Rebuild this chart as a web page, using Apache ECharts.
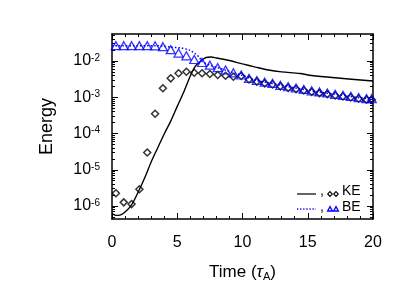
<!DOCTYPE html>
<html><head><meta charset="utf-8">
<script src="https://cdn.jsdelivr.net/npm/echarts@6/dist/echarts.min.js"></script>
<style>html,body{margin:0;padding:0;background:#fff}#c{width:407px;height:291px}</style>
</head><body><div id="c"></div>
<script>
// ---- data ----
const xTickValues = [0, 5, 10, 15, 20];
const yTickValues = [1e-6, 1e-5, 1e-4, 1e-3, 1e-2];
const yTickLabels = ['10{s|-6}', '10{s|-5}', '10{s|-4}', '10{s|-3}', '10{s|-2}'];

// KE solid line
const keLineT = [0, 0.3, 0.6, 1.0, 1.5, 2.1, 2.5, 3.0, 3.5, 4.0, 4.5, 5.0, 5.5, 6.0, 6.4, 6.8, 7.2, 7.6, 8.0, 9.0, 10, 11, 12, 13, 14.4, 15.3, 17.5, 20];
const keLineE = [6.2e-7, 5.5e-7, 5.6e-7, 6.8e-7, 1.07e-6, 2.85e-6, 5.9e-6, 1.64e-5, 4.0e-5, 9.7e-5, 2.2e-4, 5.6e-4, 1.40e-3, 3.85e-3, 7.3e-3, 1.0e-2, 1.25e-2, 1.29e-2, 1.21e-2, 1.03e-2, 8.3e-3, 6.8e-3, 5.65e-3, 5.03e-3, 4.52e-3, 3.98e-3, 3.35e-3, 2.81e-3];

// BE dotted line
const beLineT = [0, 3.5, 3.9, 4.5, 5.3, 6.0, 6.4, 6.7, 6.9, 7.5, 8.1, 8.7, 9.3, 10, 11, 12, 13, 14, 15, 16, 17, 18, 19, 20];
const beLineE = [2.64e-2, 2.64e-2, 2.58e-2, 2.42e-2, 2.29e-2, 1.95e-2, 1.56e-2, 1.25e-2, 9.7e-3, 7.65e-3, 6.53e-3, 5.65e-3, 4.72e-3, 4.0e-3, 2.95e-3, 2.5e-3, 2.12e-3, 1.82e-3, 1.57e-3, 1.38e-3, 1.22e-3, 1.09e-3, 9.7e-4, 9.0e-4];

// sample times for markers
const sampleT = [0.3, 0.9, 1.5, 2.1, 2.7, 3.3, 3.9, 4.5, 5.1, 5.7, 6.3, 6.9, 7.5, 8.1, 8.7, 9.3, 9.9, 10.5, 11.1, 11.7, 12.3, 12.9, 13.5, 14.1, 14.7, 15.3, 15.9, 16.5, 17.1, 17.7, 18.3, 18.9, 19.5, 19.9];
const keDiamonds = [2.24e-6, 1.26e-6, 1.13e-6, 2.9e-6, 3.0e-5, 3.5e-4, 1.77e-3, 3.33e-3, 4.58e-3, 5.07e-3, 4.75e-3, 4.58e-3, 4.38e-3, 4.11e-3, 3.93e-3, 3.69e-3, 3.85e-3, 3.1e-3, 2.7e-3, 2.42e-3, 2.26e-3, 2.0e-3, 1.82e-3, 1.68e-3, 1.53e-3, 1.41e-3, 1.3e-3, 1.22e-3, 1.12e-3, 1.05e-3, 9.9e-4, 9.1e-4, 8.6e-4, 8.5e-4];
const beTriangles = [2.64e-2, 2.64e-2, 2.64e-2, 2.64e-2, 2.64e-2, 2.62e-2, 2.48e-2, 2.05e-2, 1.66e-2, 1.39e-2, 1.10e-2, 9.1e-3, 7.65e-3, 6.53e-3, 5.65e-3, 4.72e-3, 4.11e-3, 3.33e-3, 2.90e-3, 2.60e-3, 2.43e-3, 2.14e-3, 1.95e-3, 1.80e-3, 1.64e-3, 1.51e-3, 1.40e-3, 1.31e-3, 1.20e-3, 1.13e-3, 1.06e-3, 9.8e-4, 9.2e-4, 9.1e-4];

const yMin = 4.38e-7, yMax = 5.56e-2;

// ---- chart ----
const FONT = '"Liberation Sans", Arial, Helvetica, sans-serif';
const BLUE = '#0000ff';
const pair = (t, v) => t.map((x, i) => [x, v[i]]);

const yMinor = [];
for (let e = -7; e <= -2; e++) for (let m = 2; m <= 9; m++) {
  const v = m * Math.pow(10, e);
  if (v > yMin && v < yMax) yMinor.push(v);
}

const axisLine = { onZero: false, lineStyle: { color: '#000', width: 1.5 } };
function xAx(pos, showLabel) {
  return {
    type: 'value', min: 0, max: 20, interval: 5, position: pos,
    axisLine: axisLine,
    axisTick: { inside: true, length: 6, lineStyle: { color: '#000', width: 1 } },
    minorTick: { show: true, splitNumber: 5, length: 3, lineStyle: { color: '#000', width: 1 } },
    splitLine: { show: false }, minorSplitLine: { show: false },
    axisLabel: { show: showLabel, color: '#000', fontSize: 16, fontFamily: FONT, margin: 16,
      customValues: xTickValues },
    name: showLabel ? 'Time ({i|τ}{sub|A})' : '',
    nameLocation: 'middle', nameGap: 44,
    nameTextStyle: { color: '#000', fontSize: 17, fontFamily: FONT,
      rich: { i: { fontSize: 17, fontStyle: 'italic', fontFamily: FONT, color: '#000' },
              sub: { fontSize: 11, fontFamily: FONT, color: '#000', verticalAlign: 'bottom', padding: [8, 0, 0, 0] } } }
  };
}
function yAx(pos, major, showLabel) {
  const o = {
    type: 'log', min: yMin, max: yMax, position: pos,
    axisLine: major ? axisLine : { show: false, onZero: false },
    axisTick: { inside: true, length: major ? 6 : 3, lineStyle: { color: '#000', width: 1 },
      customValues: major ? yTickValues : yMinor },
    minorTick: { show: false },
    splitLine: { show: false },
    axisLabel: { show: showLabel, customValues: yTickValues, color: '#000', fontSize: 16, fontFamily: FONT, margin: 12,
      formatter: v => {
        const i = yTickValues.findIndex(t => Math.abs(Math.log10(t) - Math.log10(v)) < 1e-6);
        return i >= 0 ? yTickLabels[i] : '';
      },
      rich: { s: { fontSize: 10, fontFamily: FONT, color: '#000', verticalAlign: 'top', lineHeight: 12 } }
    }
  };
  if (showLabel) {
    o.name = 'Energy'; o.nameLocation = 'middle'; o.nameGap = 56;
    o.nameTextStyle = { color: '#000', fontSize: 18, fontFamily: FONT };
  }
  return o;
}

const chart = echarts.init(document.getElementById('c'), null, { renderer: 'canvas' });
chart.setOption({
  animation: false,
  backgroundColor: '#fff',
  grid: { left: 112, right: 34, top: 34, bottom: 72, containLabel: false },
  xAxis: [xAx('bottom', true), xAx('top', false)],
  yAxis: [yAx('left', true, true), yAx('left', false, false), yAx('right', true, false), yAx('right', false, false)],
  series: [
    { type: 'line', data: pair(keLineT, keLineE), showSymbol: false, smooth: 0.3, clip: true,
      lineStyle: { color: '#000', width: 1.4 }, z: 2 },
    { type: 'line', data: pair(beLineT, beLineE), showSymbol: false, smooth: 0.3, clip: true,
      lineStyle: { color: BLUE, width: 1.5, type: [1.5, 2] }, z: 2 },
    { type: 'scatter', data: pair(sampleT, keDiamonds), symbol: 'diamond', symbolSize: [7, 7], clip: false,
      itemStyle: { color: 'rgba(0,0,0,0)', borderColor: '#000', borderWidth: 1.5 }, z: 3 },
    { type: 'scatter', data: pair(sampleT, beTriangles), symbol: 'triangle', symbolSize: [9, 8], clip: false,
      itemStyle: { color: 'rgba(255,255,255,0)', borderColor: BLUE, borderWidth: 1.3 }, z: 4 }
  ],
  graphic: [
    { type: 'line', shape: { x1: 297, y1: 194, x2: 316, y2: 194 }, style: { stroke: '#000', lineWidth: 1.2 } },
    { type: 'text', x: 320, y: 191, style: { text: ',', fontSize: 14, fontFamily: FONT, fill: '#000', verticalAlign: 'middle' } },
    { type: 'polygon', shape: { points: [[330, 191.6], [332.3, 194], [330, 196.4], [327.7, 194]] }, style: { fill: 'none', stroke: '#000', lineWidth: 1.1 } },
    { type: 'polygon', shape: { points: [[336, 191.6], [338.3, 194], [336, 196.4], [333.7, 194]] }, style: { fill: 'none', stroke: '#000', lineWidth: 1.1 } },
    { type: 'text', x: 342, y: 191, style: { text: 'KE', fontSize: 14, fontFamily: FONT, fill: '#000', verticalAlign: 'middle' } },
    { type: 'line', shape: { x1: 297, y1: 209, x2: 316, y2: 209 }, style: { stroke: BLUE, lineWidth: 1.3, lineDash: [1.3, 1.8] } },
    { type: 'text', x: 320, y: 207.5, style: { text: ',', fontSize: 14, fontFamily: FONT, fill: '#000', verticalAlign: 'middle' } },
    { type: 'polygon', shape: { points: [[330, 206.6], [332.4, 211], [327.6, 211]] }, style: { fill: 'none', stroke: BLUE, lineWidth: 1.3 } },
    { type: 'polygon', shape: { points: [[336, 206.6], [338.4, 211], [333.6, 211]] }, style: { fill: 'none', stroke: BLUE, lineWidth: 1.3 } },
    { type: 'text', x: 342, y: 207.5, style: { text: 'BE', fontSize: 14, fontFamily: FONT, fill: '#000', verticalAlign: 'middle' } }
  ]
});
</script></body></html>
